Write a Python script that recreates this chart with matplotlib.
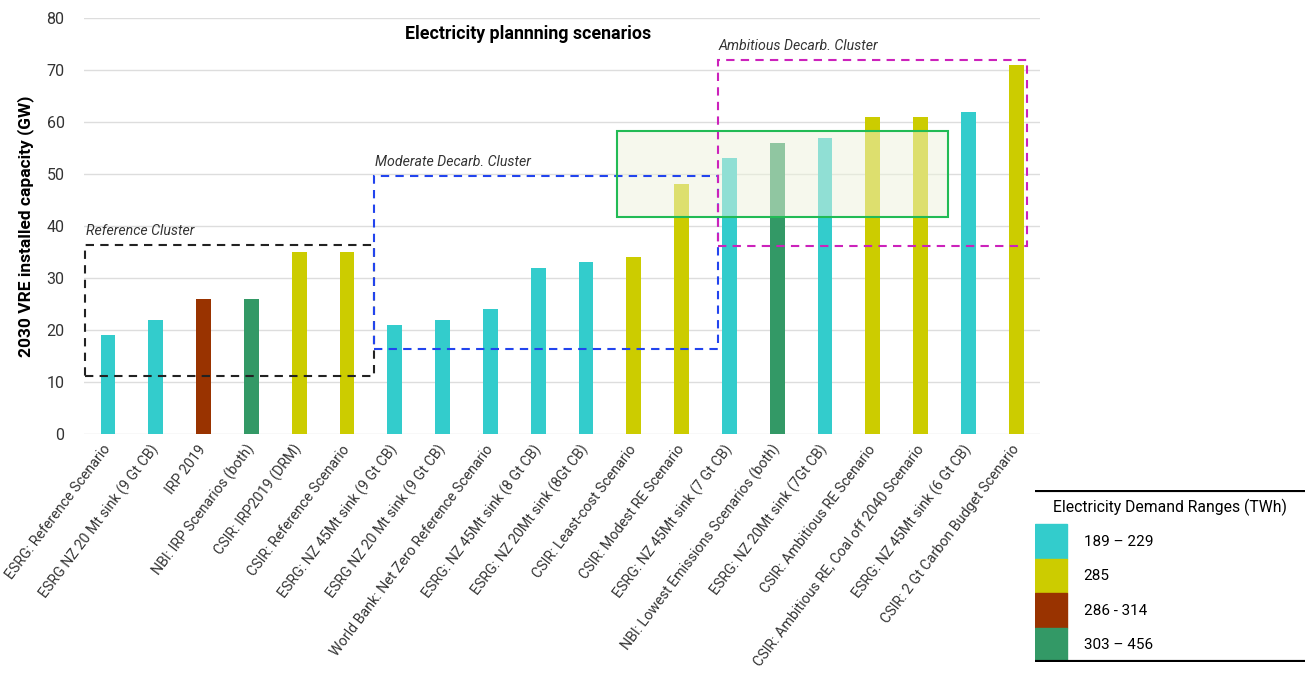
import matplotlib.pyplot as plt
from matplotlib.patches import Rectangle

plt.rcParams['font.family'] = ['Roboto', 'DejaVu Sans']

scenarios = [
    "ESRG: Reference Scenario", "ESRG NZ 20 Mt sink (9 Gt CB)", "IRP 2019",
    "NBI: IRP Scenarios (both)", "CSIR: IRP2019 (DRM)", "CSIR: Reference Scenario",
    "ESRG: NZ 45Mt sink (9 Gt CB)", "ESRG NZ 20 Mt sink (9 Gt CB)",
    "World Bank: Net Zero Reference Scenario", "ESRG: NZ 45Mt sink (8 Gt CB)",
    "ESRG: NZ 20Mt sink (8Gt CB)", "CSIR: Least-cost Scenario",
    "CSIR: Modest RE Scenario", "ESRG: NZ 45Mt sink (7 Gt CB)",
    "NBI: Lowest Emissions Scenarios (both)", "ESRG: NZ 20Mt sink (7Gt CB)",
    "CSIR: Ambitious RE Scenario", "CSIR: Ambitious RE, Coal off 2040 Scenario",
    "ESRG: NZ 45Mt sink (6 Gt CB)", "CSIR: 2 Gt Carbon Budget Scenario",
]
capacity_gw = [19, 22, 26, 26, 35, 35, 21, 22, 24, 32, 33, 34, 48, 53, 56, 57, 61, 61, 62, 71]
# demand range group of each bar (index into ranges)
demand_group = [0, 0, 2, 3, 1, 1, 0, 0, 0, 0, 0, 1, 1, 0, 3, 0, 1, 1, 0, 1]

ranges = ["189 \u2013 229", "285", "286 - 314", "303 \u2013 456"]
range_colors = ["#33CCCC", "#CCCC00", "#993300", "#339966"]

# cluster boxes: (label, x0, x1, y0, y1, colour)
clusters = [
    ("Reference Cluster", -0.48, 5.57, 11.2, 36.3, "#222222"),
    ("Moderate Decarb. Cluster", 5.57, 12.76, 16.3, 49.6, "#2244ee"),
    ("Ambitious Decarb. Cluster", 12.76, 19.23, 36.2, 71.9, "#cc22bb"),
]
highlight = (10.66, 17.57, 41.7, 58.3)

fig = plt.figure(figsize=(13.09, 6.82), dpi=100)
ax = fig.add_axes([0.0642, 0.3636, 0.7303, 0.61])

xs = list(range(len(scenarios)))
cols = [range_colors[g] for g in demand_group]
ax.bar(xs, capacity_gw, width=0.31, color=cols, zorder=2)

ax.set_xlim(-0.5, len(scenarios) - 0.5)
ax.set_ylim(0, 80)
ax.set_yticks(range(0, 81, 10))
ax.grid(axis='y', color='#dddddd', lw=1, zorder=0)
for s in ax.spines.values():
    s.set_visible(False)
ax.tick_params(axis='both', length=0, labelsize=11.5, colors='#333333')
ax.tick_params(axis='y', pad=14)
ax.tick_params(axis='x', pad=9)
ax.set_xticks(xs)
ax.set_xticklabels(scenarios, rotation=53, ha='right', va='center', rotation_mode='anchor',
                   fontsize=10.3, color='#333333')
ax.set_ylabel("2030 VRE installed capacity (GW)", fontsize=12.5, fontweight='bold', labelpad=9)

ax.text(8.8, 77, "Electricity plannning scenarios", ha='center', va='center',
        fontsize=12.8, fontweight='bold')

for label, x0, x1, y0, y1, c in clusters:
    ax.add_patch(Rectangle((x0, y0), x1 - x0, y1 - y0, fill=False, ec=c,
                           lw=1.5, ls=(0, (4, 3)), zorder=4, clip_on=False))
    ax.text(x0 + 0.02, y1 + 1.3, label, style='italic', fontsize=10.2,
            color='#333333', ha='left', va='bottom')

hx0, hx1, hy0, hy1 = highlight
ax.add_patch(Rectangle((hx0, hy0), hx1 - hx0, hy1 - hy0, fc='#eef3dc', alpha=0.5,
                       ec='none', zorder=3))
ax.add_patch(Rectangle((hx0, hy0), hx1 - hx0, hy1 - hy0, fill=False, ec='#22bb55',
                       lw=1.5, zorder=5))

# legend table
lg = fig.add_axes([0.7907, 0.029, 0.2063, 0.2525])
lg.set_xlim(0, 1)
lg.set_ylim(0, 1)
lg.axis('off')
lg.axhline(1, color='black', lw=3)
lg.axhline(0, color='black', lw=3)
lg.text(0.5, 0.9, "Electricity Demand Ranges (TWh)", ha='center', va='center', fontsize=11.3)
row_h = 0.2
for i, (r, c) in enumerate(zip(ranges, range_colors)):
    y0 = 0.8 - (i + 1) * row_h
    lg.add_patch(Rectangle((0, y0), 0.12, row_h, color=c))
    lg.text(0.18, y0 + row_h / 2, r, ha='left', va='center', fontsize=11)

fig.savefig("out.png", dpi=100)
